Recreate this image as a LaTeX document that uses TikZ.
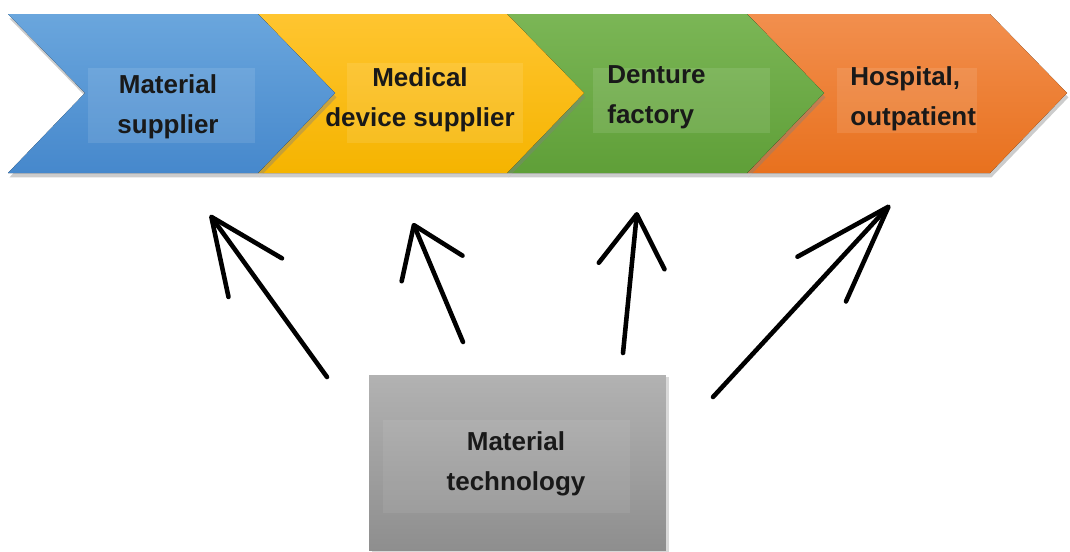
\documentclass[tikz,border=0pt]{standalone}
\usepackage{fontspec}
\setmainfont{Liberation Sans}
\usetikzlibrary{arrows.meta,shadows}
\definecolor{blueT}{HTML}{6AA6DD}
\definecolor{blueB}{HTML}{4688CC}
\definecolor{goldT}{HTML}{FFC530}
\definecolor{goldB}{HTML}{F5B400}
\definecolor{greenT}{HTML}{7BB656}
\definecolor{greenB}{HTML}{5F9F38}
\definecolor{orangeT}{HTML}{F28F4E}
\definecolor{orangeB}{HTML}{E8711E}
\definecolor{greyT}{HTML}{B2B2B2}
\definecolor{greyB}{HTML}{8E8E8E}
\begin{document}
\begin{tikzpicture}[x=0.02cm,y=-0.02cm,
  chev/.style={drop shadow={shadow xshift=0.8pt,shadow yshift=-2.5pt,opacity=0.4}},
  tbox/.style={fill=white,fill opacity=0.1},
  lbl/.style={font=\fontsize{14.8}{22.5}\selectfont\bfseries,text=black!90,inner sep=0pt},
  arr/.style={line width=2.6pt,line cap=round}]
\useasboundingbox (0,0) rectangle (1070,551);
% chevrons, from right to left so that each shadow falls on the next one
\foreach \xa/\xb/\ct/\cb in {747/990/orangeT/orangeB,507/747/greenT/greenB,
  258/507/goldT/goldB,8/258/blueT/blueB}
  \fill[chev,top color=\ct,bottom color=\cb] (\xa,14) -- (\xb,14) -- (\xb+77,93)
    -- (\xb,173) -- (\xa,173) -- (\xa+77,93) -- cycle;
\fill[tbox] (88,68) rectangle (255,143);
\fill[tbox] (347,63) rectangle (523,143);
\fill[tbox] (593,68) rectangle (770,133);
\fill[tbox] (837,68) rectangle (977,133);
\node[lbl,align=center] (mat) at (168,107) {Material\\supplier};
\node[lbl,align=center] (dev) at (420,100) {Medical\\device supplier};
\node[lbl,align=left,anchor=west] (den) at (607,97) {Denture\\factory};
\node[lbl,align=left,anchor=west] (hos) at (850,99) {Hospital,\\outpatient};
% material technology box
\node[top color=greyT,bottom color=greyB,minimum width=5.94cm,minimum height=3.52cm,
  drop shadow={shadow xshift=1.5pt,shadow yshift=-1pt,opacity=0.3}] (tech) at (517.5,463) {};
\fill[tbox,fill opacity=0.07] (383,420) rectangle (630,513);
\node[lbl,align=center] (techlbl) at (516,464) {Material\\technology};
% arrows
\coordinate (t1) at (327,377); \coordinate (h1) at (210,215);
\coordinate (t2) at (463,342); \coordinate (h2) at (413,223);
\coordinate (t3) at (623,353); \coordinate (h3) at (637,212);
\coordinate (t4) at (713,397); \coordinate (h4) at (890,205);
\draw[arr,-{Straight Barb[round,length=1.5cm,width=1.32cm]}] (t1) -- (h1);
\draw[arr,-{Straight Barb[round,length=0.94cm,width=1.32cm]}] (t2) -- (h2);
\draw[arr,-{Straight Barb[round,length=1.04cm,width=1.32cm]}] (t3) -- (h3);
\draw[arr,-{Straight Barb[round,length=1.97cm,width=1.32cm]}] (t4) -- (h4);
\end{tikzpicture}
\end{document}
